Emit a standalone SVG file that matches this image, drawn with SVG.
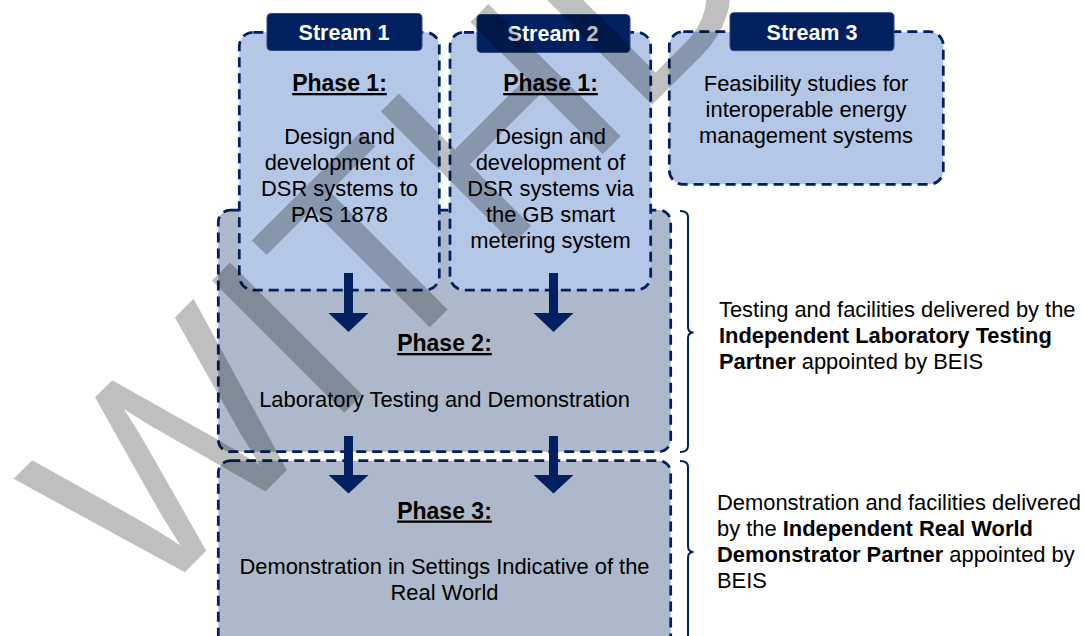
<svg xmlns="http://www.w3.org/2000/svg" width="1084" height="636" viewBox="0 0 1084 636">
<style>
.b1{fill:#B4C7E7;stroke:#002060;stroke-width:2.75;stroke-dasharray:10 6}
.b2{fill:#ADB9CA;stroke:#002060;stroke-width:2.75;stroke-dasharray:10 6}
.tab{fill:#002060;stroke:#2F4B85;stroke-width:1}
.t{font-family:"Liberation Sans",Arial,sans-serif;font-size:21.9px;fill:#000;text-anchor:middle}
.h{font-weight:bold;font-size:23px;text-decoration:underline}
.tt{font-weight:bold;font-size:21.5px;fill:#fff}
.r{text-anchor:start}
.bd{font-weight:bold}
.ar{fill:#002060}
.br{fill:none;stroke:#002060;stroke-width:2}
.wm{font-family:"Liberation Sans",Arial,sans-serif;font-size:272px;fill:#000;fill-opacity:0.25}
</style>
<g id="phase2">
<rect class="b2" x="218.3" y="210" width="452.4" height="241.7" rx="12"/>
<text class="t h" x="444.5" y="351">Phase 2:</text>
<text class="t" x="444.5" y="407">Laboratory Testing and Demonstration</text>
</g>
<g id="phase3">
<rect class="b2" x="218.3" y="460.7" width="452.4" height="210" rx="12"/>
<text class="t h" x="444.5" y="518.5">Phase 3:</text>
<text class="t" x="444.5" y="573.5">Demonstration in Settings Indicative of the</text>
<text class="t" x="444.5" y="599.5">Real World</text>
</g>
<g id="stream1">
<rect class="b1" x="239.3" y="32.3" width="200" height="257.7" rx="14"/>
<rect class="tab" x="267" y="13.5" width="155" height="37" rx="4"/>
<text class="t tt" x="344" y="39.5">Stream 1</text>
<text class="t h" x="339.5" y="91">Phase 1:</text>
<text class="t" x="339.5" y="144">Design and</text>
<text class="t" x="339.5" y="170">development of</text>
<text class="t" x="339.5" y="196">DSR systems to</text>
<text class="t" x="339.5" y="222">PAS 1878</text>
</g>
<g id="stream2">
<rect class="b1" x="450" y="32.3" width="200.7" height="257.7" rx="14"/>
<rect class="tab" x="477" y="14.5" width="153" height="38" rx="4"/>
<text class="t tt" x="553" y="41">Stream 2</text>
<text class="t h" x="550.5" y="91">Phase 1:</text>
<text class="t" x="550.5" y="143.5">Design and</text>
<text class="t" x="550.5" y="169.5">development of</text>
<text class="t" x="550.5" y="195.5">DSR systems via</text>
<text class="t" x="550.5" y="221.5">the GB smart</text>
<text class="t" x="550.5" y="247.5">metering system</text>
</g>
<g id="stream3">
<rect class="b1" x="669.3" y="31.7" width="274" height="152.6" rx="14"/>
<rect class="tab" x="730" y="12.7" width="164" height="38" rx="4"/>
<text class="t tt" x="812" y="39.5">Stream 3</text>
<text class="t" x="806" y="91">Feasibility studies for</text>
<text class="t" x="806" y="117">interoperable energy</text>
<text class="t" x="806" y="143">management systems</text>
</g>
<g id="note-lab">
<text class="t r" x="719" y="317">Testing and facilities delivered by the</text>
<text class="t r" x="719" y="343"><tspan class="bd">Independent Laboratory Testing</tspan></text>
<text class="t r" x="719" y="369"><tspan class="bd">Partner</tspan> appointed by BEIS</text>
</g>
<g id="note-real">
<text class="t r" x="717" y="510">Demonstration and facilities delivered</text>
<text class="t r" x="717" y="536">by the <tspan class="bd">Independent Real World</tspan></text>
<text class="t r" x="717" y="562"><tspan class="bd">Demonstrator Partner</tspan> appointed by</text>
<text class="t r" x="717" y="588">BEIS</text>
</g>
<g id="connectors">
<polygon class="ar" points="344,273 353,273 353,313 368.5,313 348.5,332 328.5,313 344,313"/>
<polygon class="ar" points="549,273 558,273 558,313 573.5,313 553.5,332 533.5,313 549,313"/>
<polygon class="ar" points="344,436 353,436 353,475 368.5,475 348.5,493.5 328.5,475 344,475"/>
<polygon class="ar" points="549,436 558,436 558,475 573.5,475 553.5,493.5 533.5,475 549,475"/>
<path class="br" d="M680,211 Q688,211 688,217 L688,327 Q688,332.5 693.5,332.5 Q688,332.5 688,338 L688,446 Q688,452 680,452"/>
<path class="br" d="M680,461 Q688,461 688,467 L688,546 Q688,552 693.5,552 Q688,552 688,558 L688,660"/>
</g>
<g id="watermark">
<text class="wm" x="145" y="612" transform="rotate(-45 145 612)">WITHDRAWN</text>
</g>
</svg>
